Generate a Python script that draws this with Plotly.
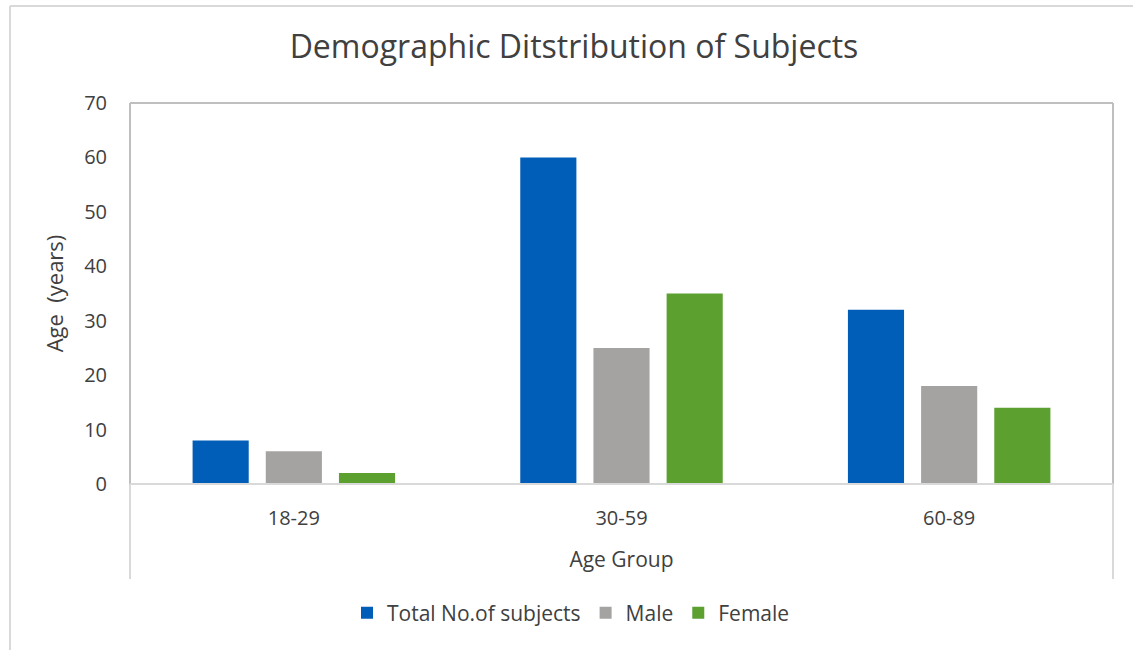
import plotly.graph_objects as go

# Chart data
age_groups = ["18-29", "30-59", "60-89"]
total_subjects = [8, 60, 32]
male = [6, 25, 18]
female = [2, 35, 14]
y_ticks = [0, 10, 20, 30, 40, 50, 60, 70]

series_names = ["Total No.of subjects", "Male", "Female"]
series_colors = ["#005EB8", "#A5A3A1", "#5CA130"]

FONT = "Open Sans, Noto Sans, sans-serif"
TEXT = "#404040"

fig = go.Figure()
for name, vals, col in zip(series_names, [total_subjects, male, female], series_colors):
    fig.add_trace(go.Bar(x=age_groups, y=vals, name=name, marker=dict(color=col, line=dict(width=0))))

W, H = 1133, 650
L, R, T, B = 130, 20, 103, 166
plot_w = W - L - R
plot_h = H - T - B
# paper y of the bottom of the frame lines (pixel 579)
y_bottom = -(579 - (H - B)) / plot_h

fig.update_layout(
    width=W, height=H,
    margin=dict(l=L, r=R, t=T, b=B),
    paper_bgcolor="white", plot_bgcolor="white",
    font=dict(family=FONT, color=TEXT, size=20),
    title=dict(text="Demographic Ditstribution of Subjects", x=574 / W, xanchor="center",
               y=1 - 47 / H, yanchor="middle", font=dict(size=32, color=TEXT, family=FONT)),
    barmode="group", bargap=0.33, bargroupgap=0.233,
    showlegend=True,
    legend=dict(orientation="h", x=(571 - L) / plot_w, xanchor="center",
                y=-(613 - (H - B)) / plot_h, yanchor="middle",
                font=dict(size=21, color=TEXT), traceorder="normal", itemclick=False),
    xaxis=dict(type="category", range=[-0.5, 2.5], showgrid=False, zeroline=False,
               showline=False, ticks="", ticklabelstandoff=20,
               tickfont=dict(size=20, color=TEXT),
               title=dict(text="Age Group", standoff=22, font=dict(size=21, color=TEXT))),
    yaxis=dict(range=[0, 70], tickvals=y_ticks, showgrid=False, zeroline=False,
               showline=False, ticks="", ticklabelstandoff=22,
               tickfont=dict(size=20, color=TEXT),
               title=dict(text="Age  (years)", standoff=14, font=dict(size=22, color=TEXT))),
)

# Plot-area border (left, top, right) and category-axis line at zero
dark, light = "#BFBFBF", "#D9D9D9"
fig.add_shape(type="line", xref="paper", yref="paper", x0=0, x1=1, y0=1, y1=1,
              line=dict(color=dark, width=2))
fig.add_shape(type="line", xref="paper", yref="paper", x0=0, x1=0, y0=0, y1=1,
              line=dict(color=dark, width=2))
fig.add_shape(type="line", xref="paper", yref="paper", x0=1, x1=1, y0=0, y1=1,
              line=dict(color=dark, width=2))
fig.add_shape(type="line", xref="paper", yref="paper", x0=0, x1=1, y0=0, y1=0,
              line=dict(color=light, width=2))
fig.add_shape(type="line", xref="paper", yref="paper", x0=0, x1=0, y0=y_bottom, y1=0,
              line=dict(color=light, width=2))
fig.add_shape(type="line", xref="paper", yref="paper", x0=1, x1=1, y0=y_bottom, y1=0,
              line=dict(color=light, width=2))

# Outer chart frame (only its left and top edges fall inside the view)
fx0 = -(L - 10) / plot_w
fy1 = 1 + (T - 6) / plot_h
fig.add_shape(type="line", xref="paper", yref="paper", x0=fx0, x1=fx0, y0=-5, y1=fy1,
              line=dict(color=light, width=2))
fig.add_shape(type="line", xref="paper", yref="paper", x0=fx0, x1=5, y0=fy1, y1=fy1,
              line=dict(color=light, width=2))

fig.write_html("out.html")
